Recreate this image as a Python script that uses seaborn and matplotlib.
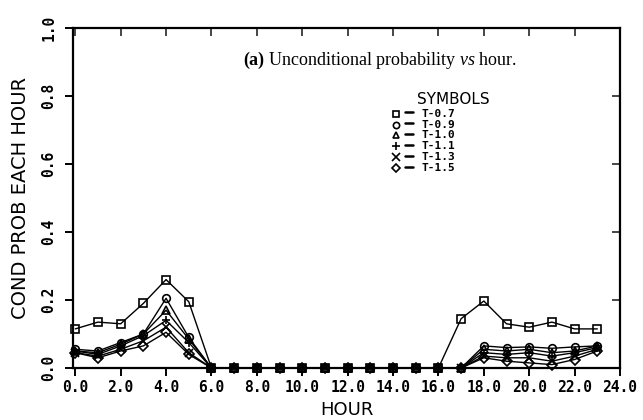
import matplotlib
matplotlib.use("Agg")
import matplotlib.pyplot as plt
import seaborn as sns

hours = list(range(24))
labels = ["T-0.7", "T-0.9", "T-1.0", "T-1.1", "T-1.3", "T-1.5"]
markers = ["s", "o", "^", "+", "x", "D"]
zeros11 = [0.0] * 11  # hours 6..16

t07 = [0.115, 0.135, 0.13, 0.19, 0.26, 0.195] + zeros11 + [0.145, 0.197, 0.13, 0.12, 0.135, 0.115, 0.115]
t09 = [0.055, 0.05, 0.075, 0.10, 0.205, 0.09] + zeros11 + [0.0, 0.065, 0.06, 0.062, 0.058, 0.062, 0.065]
t10 = [0.05, 0.045, 0.07, 0.10, 0.17, 0.085] + zeros11 + [0.0, 0.055, 0.05, 0.055, 0.045, 0.05, 0.065]
t11 = [0.05, 0.04, 0.065, 0.095, 0.14, 0.075] + zeros11 + [0.0, 0.045, 0.04, 0.045, 0.035, 0.045, 0.06]
t13 = [0.045, 0.035, 0.055, 0.08, 0.12, 0.045] + zeros11 + [0.0, 0.035, 0.03, 0.03, 0.02, 0.035, 0.055]
t15 = [0.045, 0.03, 0.05, 0.065, 0.105, 0.04] + zeros11 + [0.0, 0.03, 0.02, 0.015, 0.01, 0.025, 0.05]
series = [t07, t09, t10, t11, t13, t15]

xticks = [0, 2, 4, 6, 8, 10, 12, 14, 16, 18, 20, 22, 24]
yticks = [0.0, 0.2, 0.4, 0.6, 0.8, 1.0]

sns.set_theme(style="white")
plt.rcParams["font.family"] = ["DejaVu Sans"]
plt.rcParams["mathtext.fontset"] = "custom"
plt.rcParams["mathtext.rm"] = "Liberation Serif"
plt.rcParams["mathtext.it"] = "Liberation Serif:italic"
plt.rcParams["mathtext.bf"] = "Liberation Serif:bold"

fig = plt.figure(figsize=(6.43, 4.20), dpi=100)
ax = fig.add_axes([73 / 643, 1 - 368 / 420, (620 - 73) / 643, (368 - 28) / 420])

for vals, m, lab in zip(series, markers, labels):
    sns.lineplot(x=hours, y=vals, ax=ax, color="black", linewidth=1.0,
                 marker=m, markersize=5.5 if m not in ("+", "x") else 6,
                 markerfacecolor="none", markeredgecolor="black",
                 markeredgewidth=1.2, label=lab, legend=False, clip_on=False)

ax.set_xlim(-0.1, 24)
ax.set_ylim(0, 1.0)
for s in ax.spines.values():
    s.set_visible(True)
    s.set_color("black")
    s.set_linewidth(1.6)

ax.set_xticks(xticks)
ax.set_xticklabels([f"{v:.1f}" for v in xticks], fontfamily="DejaVu Sans Mono",
                   fontweight="bold", fontsize=10.5)
ax.set_yticks(yticks)
ax.set_yticklabels([f"{v:.1f}" for v in yticks], fontfamily="DejaVu Sans Mono",
                   fontweight="bold", fontsize=10.5, rotation=90, va="center")
ax.tick_params(axis="both", direction="out", length=6, width=1.4, color="black",
               bottom=True, left=True, pad=3, labelcolor="black")
ax.tick_params(axis="y", pad=6)

secx = ax.secondary_xaxis("top")
secx.set_xticks(xticks)
secx.tick_params(direction="in", length=6, width=1.2, labeltop=False)
secx.spines["top"].set_visible(False)
secy = ax.secondary_yaxis("right")
secy.set_yticks(yticks)
secy.tick_params(direction="in", length=6, width=1.2, labelright=False)
secy.spines["right"].set_visible(False)

ax.set_xlabel("HOUR", fontsize=13, labelpad=4, color="black")
ax.set_ylabel("COND PROB EACH HOUR", fontsize=14, labelpad=8, color="black")

ax.text(0.31, 0.905, r"$\mathbf{(a)}$ Unconditional probability $\mathit{vs}$ hour.",
        transform=ax.transAxes, fontsize=13, fontfamily="Liberation Serif",
        ha="left", va="center", color="black")

# symbol legend
ax.text(0.628, 0.79, "SYMBOLS", transform=ax.transAxes, fontsize=11,
        fontfamily="DejaVu Sans", ha="left", va="center", color="black")
for i, (m, lab) in enumerate(zip(markers, labels)):
    yy = 0.748 - i * 0.032
    ax.plot([0.59], [yy], marker=m, markersize=4.5 if m not in ("+", "x") else 5.5,
            markerfacecolor="none", markeredgecolor="black", markeredgewidth=1.2,
            transform=ax.transAxes, linestyle="none")
    ax.plot([0.607, 0.622], [yy + 0.004, yy + 0.004], color="black", linewidth=1.8,
            transform=ax.transAxes)
    ax.text(0.638, yy, lab, transform=ax.transAxes, fontsize=8,
            fontfamily="DejaVu Sans Mono", fontweight="bold",
            ha="left", va="center", color="black")

fig.savefig("out.png", dpi=100, facecolor="white")
